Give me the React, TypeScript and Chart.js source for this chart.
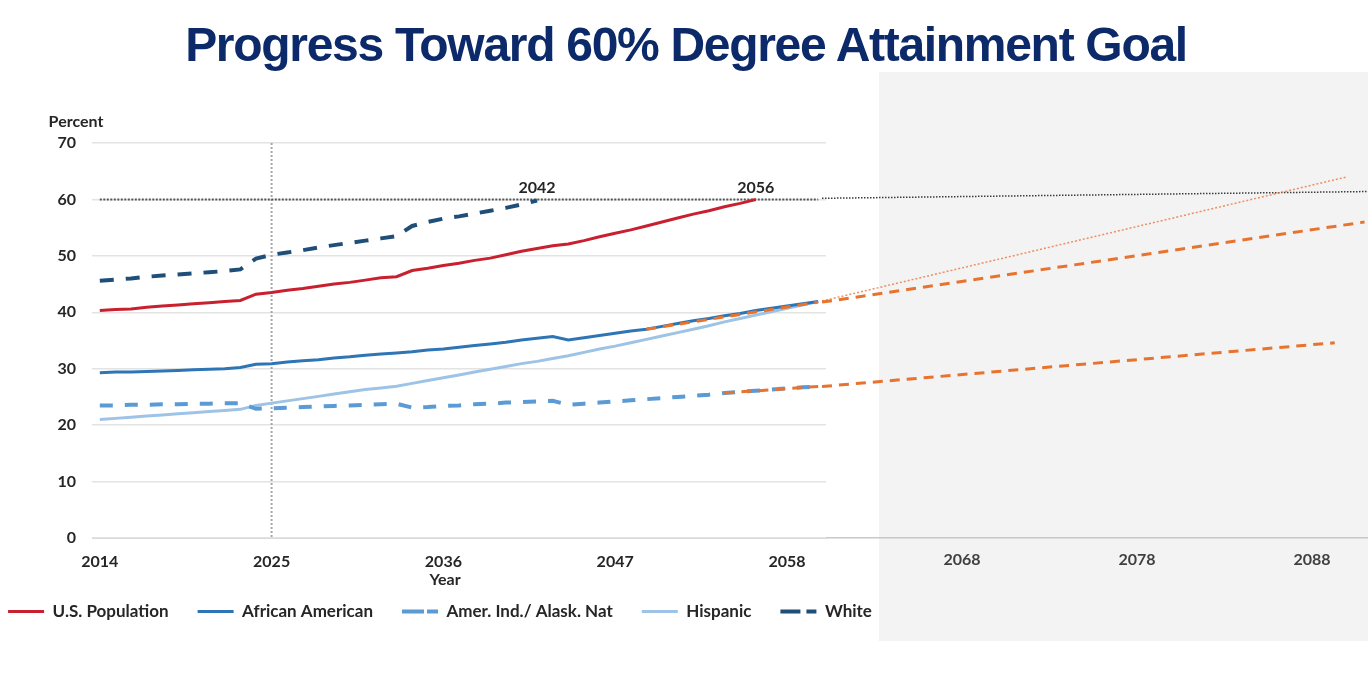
import { useEffect, useRef } from 'react';
import { Chart, registerables } from 'chart.js';

Chart.register(...registerables);

// ---- data ----
const years = [
  '2014', '2015', '2016', '2017', '2018', '2019', '2020', '2021', '2022', '2023',
  '2024', '2025', '2026', '2027', '2028', '2029', '2030', '2031', '2032', '2033',
  '2034', '2035', '2036', '2037', '2038', '2039', '2040', '2041', '2042', '2043',
  '2044', '2045', '2046', '2047', '2048', '2049', '2050', '2051', '2052', '2053',
  '2054', '2055', '2056', '2057', '2058', '2059', '2060',
];
const yearTicks = ['2014', '2025', '2036', '2047', '2058'];
const projectionTicks = [2068, 2078, 2088];

const usPopulation = [
  40.3, 40.5, 40.6, 40.9, 41.1, 41.3, 41.5, 41.7, 41.9, 42.1,
  43.2, 43.5, 43.9, 44.2, 44.6, 45.0, 45.3, 45.7, 46.1, 46.3,
  47.4, 47.8, 48.3, 48.7, 49.2, 49.6, 50.2, 50.8, 51.3, 51.8,
  52.1, 52.7, 53.4, 54.0, 54.6, 55.3, 56.0, 56.7, 57.4, 58.0,
  58.7, 59.3, 60.0,
];
const africanAmerican = [
  29.3, 29.4, 29.4, 29.5, 29.6, 29.7, 29.8, 29.9, 30.0, 30.2,
  30.8, 30.9, 31.2, 31.4, 31.6, 31.9, 32.1, 32.4, 32.6, 32.8,
  33.0, 33.3, 33.5, 33.8, 34.1, 34.4, 34.7, 35.1, 35.4, 35.7,
  35.1, 35.5, 35.9, 36.3, 36.7, 37.0, 37.5, 38.0, 38.5, 38.9,
  39.4, 39.8, 40.3, 40.7, 41.1, 41.5, 41.9,
];
const amerIndAlaskNat = [
  23.5, 23.5, 23.6, 23.6, 23.7, 23.7, 23.8, 23.8, 23.9, 23.9,
  22.9, 23.0, 23.1, 23.2, 23.3, 23.4, 23.5, 23.6, 23.7, 23.8,
  23.1, 23.2, 23.4, 23.5, 23.7, 23.8, 24.0, 24.1, 24.2, 24.3,
  23.6, 23.8, 24.0, 24.2, 24.4, 24.6, 24.8, 25.0, 25.2, 25.4,
  25.7, 25.9, 26.1, 26.3, 26.5, 26.7, 26.8,
];
const hispanic = [
  21.0, 21.2, 21.4, 21.6, 21.8, 22.0, 22.2, 22.4, 22.6, 22.8,
  23.5, 23.9, 24.3, 24.7, 25.1, 25.5, 25.9, 26.3, 26.6, 26.9,
  27.4, 27.9, 28.4, 28.9, 29.4, 29.9, 30.4, 30.9, 31.3, 31.8,
  32.3, 32.9, 33.5, 34.0, 34.6, 35.2, 35.8, 36.4, 37.0, 37.6,
  38.3, 38.9, 39.5, 40.1, 40.7, 41.3, 41.9,
];
const white = [
  45.6, 45.8, 46.0, 46.3, 46.5, 46.7, 46.9, 47.1, 47.3, 47.6,
  49.5, 50.2, 50.6, 51.0, 51.5, 51.9, 52.3, 52.7, 53.1, 53.5,
  55.3, 56.0, 56.6, 57.0, 57.5, 58.0, 58.5, 59.1, 59.8,
];

// 60% attainment goal and the years each group reaches it
const goalYears = [2014, 2060];
const goalValues = [60, 60];
const goalReachedYears = ['2042', '2056'];

// extended trend lines
const aaTrendYears = [2049, 2060, 2091];
const aaTrendValues = [37.0, 41.8, 56.0];
const amerIndTrendYears = [2054, 2060, 2089.3];
const amerIndTrendValues = [25.7, 26.85, 34.6];
const hispanicTrendYears = [2060, 2090];
const hispanicTrendValues = [42.0, 64.0];
const goalTrendYears = [2060, 2091.2];
const goalTrendValues = [60.2, 61.4];

// ---- styling ----
const FONT = 'Lato, "Open Sans", sans-serif';
const TEXT = '#262626';
const RED = '#c8202f';
const BLUE = '#2e75b6';
const MID_BLUE = '#5b9bd5';
const LIGHT_BLUE = '#9dc3e6';
const NAVY = '#1f4e79';
const ORANGE = '#e8732f';

const W = 1368;
const H = 684;
const MAIN_LEFT = -30;
const MAIN_W = 940;

const pointsUpTo = (ys: number[], vs: number[], maxYear: number) =>
  ys.map((y, i) => ({ x: String(y), y: vs[i] })).filter((p) => Number(p.x) <= maxYear);
const pointsFrom = (ys: number[], vs: number[], minYear: number) =>
  ys.map((y, i) => ({ x: y, y: vs[i] })).filter((p) => p.x >= minYear);

function drawText(ctx: CanvasRenderingContext2D, text: string, x: number, y: number, size = 16) {
  ctx.save();
  ctx.font = `bold ${size}px ${FONT}`;
  ctx.fillStyle = TEXT;
  ctx.textAlign = 'center';
  ctx.textBaseline = 'middle';
  ctx.fillText(text, x, y);
  ctx.restore();
}

const mainDecorations = {
  id: 'mainDecorations',
  beforeDatasetsDraw(chart: any) {
    const { ctx, chartArea, scales } = chart;
    const x = scales.x.getPixelForValue(years.indexOf('2025'));
    ctx.save();
    ctx.strokeStyle = '#a6a6a6';
    ctx.lineWidth = 2;
    ctx.setLineDash([2, 2]);
    ctx.beginPath();
    ctx.moveTo(x, chartArea.top);
    ctx.lineTo(x, chartArea.bottom);
    ctx.stroke();
    ctx.restore();
  },
  afterDraw(chart: any) {
    const { ctx, scales } = chart;
    drawText(ctx, 'Percent', 76 - MAIN_LEFT, 122);
    drawText(ctx, 'Year', 445 - MAIN_LEFT, 580);
    const yGoal = scales.y.getPixelForValue(60);
    goalReachedYears.forEach((yr) => {
      const x = scales.x.getPixelForValue(years.indexOf(yr));
      drawText(ctx, yr, x, yGoal - 12);
    });
  },
};

const projectionPanel = {
  id: 'projectionPanel',
  beforeDraw(chart: any) {
    const { ctx } = chart;
    ctx.save();
    ctx.fillStyle = '#f3f3f3';
    ctx.fillRect(879, 72, W - 879, 641 - 72);
    ctx.restore();
  },
};

export default function App() {
  const mainRef = useRef<HTMLCanvasElement>(null);
  const projRef = useRef<HTMLCanvasElement>(null);

  useEffect(() => {
    Chart.defaults.font.family = FONT;
    Chart.defaults.color = TEXT;

    const proj = new Chart(projRef.current as HTMLCanvasElement, {
      type: 'line',
      data: {
        datasets: [
          {
            label: 'AA trend',
            data: pointsFrom(aaTrendYears, aaTrendValues, 2060),
            borderColor: ORANGE,
            borderWidth: 3,
            borderDash: [10, 7],
            pointRadius: 0,
          },
          {
            label: 'AIAN trend',
            data: pointsFrom(amerIndTrendYears, amerIndTrendValues, 2060),
            borderColor: ORANGE,
            borderWidth: 3,
            borderDash: [10, 7],
            pointRadius: 0,
          },
          {
            label: 'Hispanic trend',
            data: pointsFrom(hispanicTrendYears, hispanicTrendValues, 2060),
            borderColor: 'rgba(236,125,70,0.85)',
            borderWidth: 1.5,
            borderDash: [2, 2],
            pointRadius: 0,
          },
          {
            label: 'Goal',
            data: pointsFrom(goalTrendYears, goalTrendValues, 2060),
            borderColor: '#3a3a3a',
            borderWidth: 1.5,
            borderDash: [1.5, 1.5],
            pointRadius: 0,
          },
        ],
      },
      options: {
        responsive: false,
        animation: false,
        events: [],
        layout: { padding: { left: 822, right: 0, top: 143, bottom: 0 } },
        plugins: { legend: { display: false }, tooltip: { enabled: false } },
        scales: {
          x: {
            type: 'linear',
            min: 2060,
            max: 2091.2,
            grid: { display: false, drawTicks: false },
            border: { display: true, color: '#c8c8c8', width: 1.5 },
            afterBuildTicks: (scale: any) => {
              scale.ticks = projectionTicks.map((v) => ({ value: v }));
            },
            afterFit: (scale: any) => {
              scale.height = H - 538;
            },
            ticks: {
              padding: 12.5,
              color: '#404040',
              font: { size: 16, weight: 'bold' },
              maxRotation: 0,
              callback: (v: any) => String(v),
            },
          },
          y: { display: false, min: 0, max: 70 },
        },
      },
      plugins: [projectionPanel],
    } as any);

    const main = new Chart(mainRef.current as HTMLCanvasElement, {
      type: 'line',
      data: {
        labels: years,
        datasets: [
          {
            label: 'U.S. Population',
            data: usPopulation,
            borderColor: RED,
            backgroundColor: RED,
            borderWidth: 3,
            pointRadius: 0,
            order: 1,
          },
          {
            label: 'African American',
            data: africanAmerican,
            borderColor: BLUE,
            backgroundColor: BLUE,
            borderWidth: 3,
            pointRadius: 0,
            order: 1,
          },
          {
            label: 'Amer. Ind./ Alask. Nat',
            data: amerIndAlaskNat,
            borderColor: MID_BLUE,
            backgroundColor: MID_BLUE,
            borderWidth: 4,
            borderDash: [13, 12],
            pointRadius: 0,
            order: 1,
          },
          {
            label: 'Hispanic',
            data: hispanic,
            borderColor: LIGHT_BLUE,
            backgroundColor: LIGHT_BLUE,
            borderWidth: 3,
            pointRadius: 0,
            order: 1,
          },
          {
            label: 'White',
            data: white,
            borderColor: NAVY,
            backgroundColor: NAVY,
            borderWidth: 4,
            borderDash: [14, 12],
            pointRadius: 0,
            order: 1,
          },
          {
            label: 'AA trend',
            data: pointsUpTo(aaTrendYears, aaTrendValues, 2060),
            borderColor: ORANGE,
            borderWidth: 3,
            borderDash: [10, 7],
            pointRadius: 0,
            spanGaps: true,
            order: 0,
          },
          {
            label: 'AIAN trend',
            data: pointsUpTo(amerIndTrendYears, amerIndTrendValues, 2060),
            borderColor: ORANGE,
            borderWidth: 3,
            borderDash: [10, 7],
            pointRadius: 0,
            spanGaps: true,
            order: 0,
          },
          {
            label: 'Goal',
            data: pointsUpTo(goalYears, goalValues, 2060),
            borderColor: '#555555',
            borderWidth: 2,
            borderDash: [2, 1.5],
            pointRadius: 0,
            spanGaps: true,
            order: 2,
          },
        ],
      },
      options: {
        responsive: false,
        animation: false,
        events: [],
        layout: { padding: { left: 0, right: 0, top: 143, bottom: 54 } },
        plugins: {
          tooltip: { enabled: false },
          legend: {
            position: 'bottom',
            align: 'center',
            labels: {
              boxWidth: 36,
              boxHeight: 0,
              padding: 29,
              color: TEXT,
              font: { size: 17, weight: 'bold' },
              filter: (item: any) => item.datasetIndex < 5,
            },
          },
        },
        scales: {
          x: {
            type: 'category',
            offset: true,
            grid: { display: false, drawTicks: false },
            border: { display: true, color: '#d9d9d9', width: 1 },
            afterFit: (scale: any) => {
              scale.height = 36;
            },
            ticks: {
              autoSkip: false,
              maxRotation: 0,
              padding: 14,
              color: TEXT,
              font: { size: 16, weight: 'bold' },
              callback: function (this: any, value: any) {
                const lab = this.getLabelForValue(value);
                return yearTicks.includes(lab) ? lab : '';
              },
            },
          },
          y: {
            min: 0,
            max: 70,
            grid: { color: '#e3e3e3', lineWidth: 1.5, drawTicks: false },
            border: { display: false },
            afterFit: (scale: any) => {
              scale.width = 92 - MAIN_LEFT;
            },
            ticks: {
              stepSize: 10,
              padding: 16,
              color: TEXT,
              font: { size: 16, weight: 'bold' },
            },
          },
          // empty right-hand gutter that ends the plot area at the projection panel
          gutter: {
            type: 'linear',
            position: 'right',
            display: true,
            grid: { display: false, drawTicks: false },
            border: { display: false },
            ticks: { display: false },
            afterFit: (scale: any) => {
              scale.width = MAIN_W - (826 - MAIN_LEFT);
            },
          },
        },
      },
      plugins: [mainDecorations],
    } as any);

    return () => {
      main.destroy();
      proj.destroy();
    };
  }, []);

  return (
    <div
      style={{
        position: 'fixed',
        left: 0,
        top: 0,
        width: W,
        height: H,
        background: '#ffffff',
        overflow: 'hidden',
      }}
    >
      <canvas
        ref={projRef}
        width={W}
        height={H}
        style={{ position: 'absolute', left: 0, top: 0, width: W, height: H }}
      />
      <canvas
        ref={mainRef}
        width={MAIN_W}
        height={H}
        style={{ position: 'absolute', left: MAIN_LEFT, top: 0, width: MAIN_W, height: H }}
      />
      <div
        style={{
          position: 'absolute',
          left: 2,
          top: 21,
          width: W,
          textAlign: 'center',
          fontFamily: '"Liberation Sans", Arial, Helvetica, sans-serif',
          fontWeight: 'bold',
          fontSize: 48,
          lineHeight: '48px',
          letterSpacing: '-1.3px',
          color: '#0c2a6a',
        }}
      >
        Progress Toward 60% Degree Attainment Goal
      </div>
    </div>
  );
}
